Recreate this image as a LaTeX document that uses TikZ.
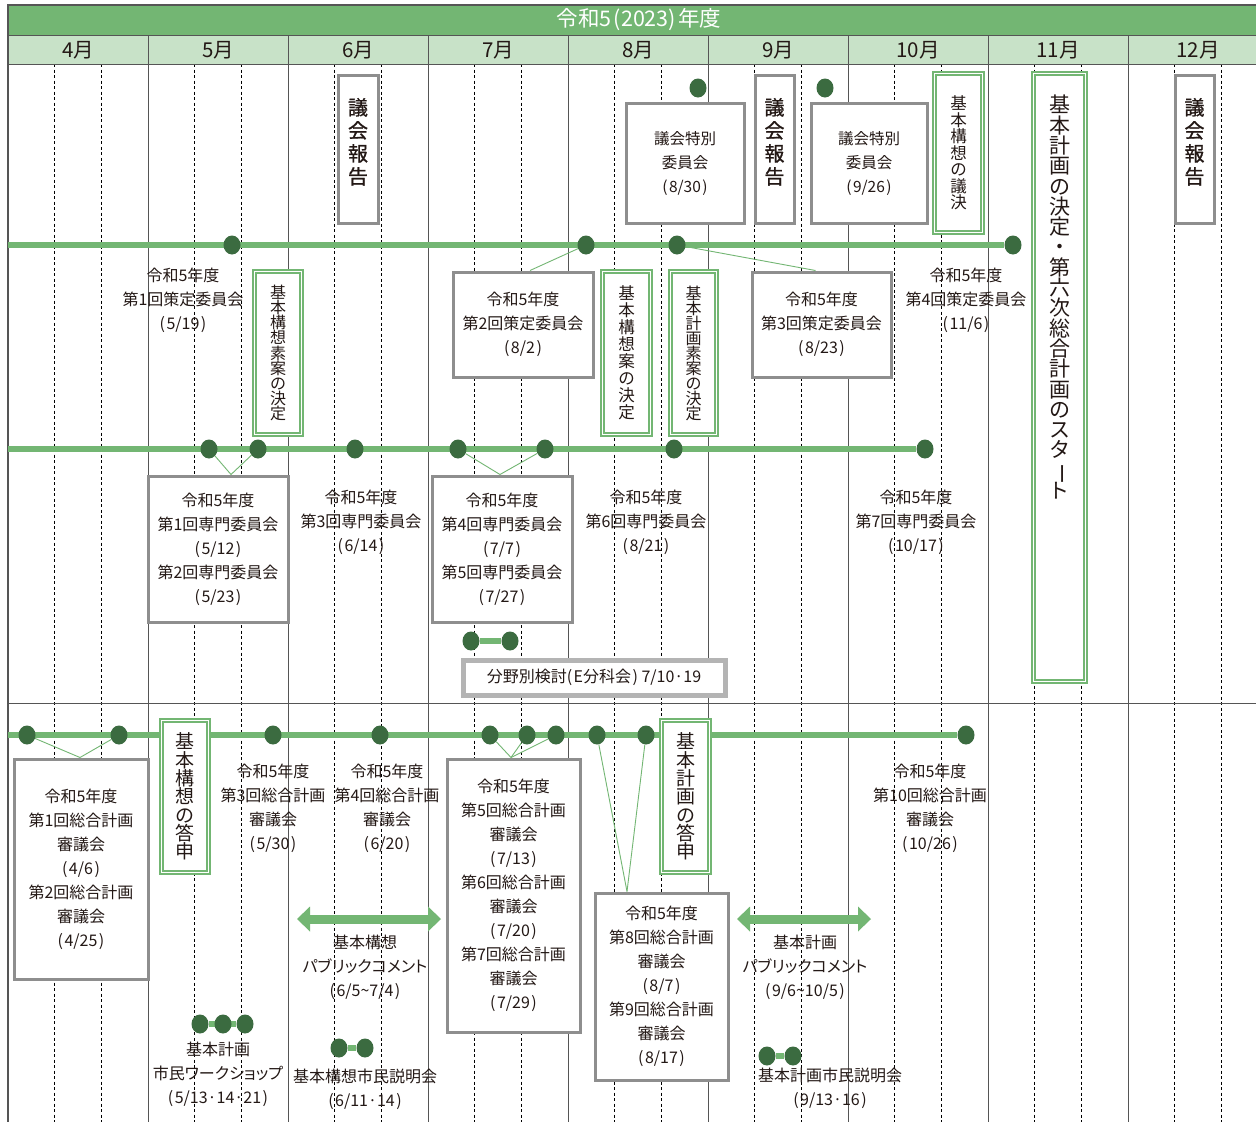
\documentclass[tikz,border=0pt]{standalone}
\usepackage{fontspec}
\usepackage{graphicx}
\setmainfont[RawFeature=+palt]{Noto Sans CJK JP}
\newfontfamily\semibold[FakeBold=1]{Noto Sans CJK JP}
\usetikzlibrary{shapes.geometric,arrows.meta}
\definecolor{lgreen}{HTML}{73B673}
\definecolor{dgreen}{HTML}{3B6B40}
\definecolor{pgreen}{HTML}{C8E2C8}
\definecolor{frame}{HTML}{555555}
\definecolor{boxgray}{HTML}{8E8E8E}
\definecolor{lgray}{HTML}{B4B4B4}
\definecolor{ink}{HTML}{231815}
\newcommand\vfont[2]{\fontsize{#1}{#2}\selectfont\lineskiplimit=-50pt\relax}
\newcommand\Lp{(\kern1.5pt}
\newcommand\Rp{\kern1.5pt)}
\pgfdeclarelayer{bg}
\pgfdeclarelayer{mid}
\pgfsetlayers{bg,mid,main}
\begin{document}
\begin{tikzpicture}[x=1pt,y=-1pt,
  every node/.style={text=ink},
  gline/.style={draw=lgreen,line width=6pt},
  conn/.style={draw=lgreen,line width=0.9pt},
  dot/.style={ellipse,fill=dgreen,minimum width=17pt,minimum height=19pt,inner sep=0pt},
  gbox/.style={draw=boxgray,line width=3pt,fill=white,align=center,inner sep=0pt,font=\vfont{16}{24}},
  rbox/.style={draw=boxgray,line width=3pt,fill=white,align=center,inner sep=0pt,text depth=16pt,font=\semibold\vfont{20}{23}},
  dbox/.style={draw=lgreen,line width=1.4pt,double=white,double distance=1.8pt,fill=white,align=center,inner sep=0pt},
  lbl/.style={align=center,inner sep=0pt,font=\vfont{16}{24}},
  frameline/.style={draw=frame,line width=1pt},
  dline/.style={draw=black,line width=0.7pt,dash pattern=on 3pt off 2.5pt},
  bigarrow/.style={draw=lgreen,line width=9pt,{Triangle[length=13pt,width=25pt,line width=0pt]}-{Triangle[length=13pt,width=25pt,line width=0pt]}}
]
\useasboundingbox (0,0) rectangle (1256,1122);

% ---------- background grid ----------
\begin{pgfonlayer}{bg}
\fill[white] (0,0) rectangle (1256,1122);
\fill[lgreen] (8,5) rectangle (1256,35);
\fill[pgreen] (8,35) rectangle (1256,64);
\foreach \i in {0,...,8} {
  \draw[dline] ({8+140*\i+46.67},64) -- ({8+140*\i+46.67},1122);
  \draw[dline] ({8+140*\i+93.33},64) -- ({8+140*\i+93.33},1122);
}
\foreach \i in {1,...,8} {
  \draw[frameline] ({8+140*\i},35) -- ({8+140*\i},1122);
}
\draw[draw=frame,line width=2pt] (8,5) -- (1256,5);
\draw[frameline] (8,35) -- (1256,35);
\draw[frameline] (8,64) -- (1256,64);
\draw[frameline] (8,703) -- (1256,703);
\draw[draw=frame,line width=1.4pt] (8,4) -- (8,1122);
\end{pgfonlayer}

% ---------- header ----------
\node[text=white,font=\fontsize{21.5}{22}\selectfont] (title) at (639,20) {令和5\kern2pt(2023)\kern2pt 年度};
\foreach \m [count=\i from 0] in {4,...,12} {
  \node[font=\fontsize{20.5}{22}\selectfont] (m\m) at ({78+140*\i},50) {{\m}月};
}

% ---------- section 1 : top ----------
\node[dot] (s830) at (698,88) {};
\node[dot] (s926) at (825,88) {};
\node[rbox,minimum width=40pt,minimum height=148pt] (rep6) at (358,149) {議\\会\\報\\告};
\node[gbox,minimum width=118pt,minimum height=120pt,font=\vfont{15.5}{24}] (sp830) at (685,163) {議会特別\\委員会\\\Lp 8/30\Rp};
\node[rbox,minimum width=39pt,minimum height=148pt] (rep9) at (774.5,149) {議\\会\\報\\告};
\node[gbox,minimum width=116pt,minimum height=120pt,font=\vfont{15.5}{24}] (sp926) at (869,163) {議会特別\\委員会\\\Lp 9/26\Rp};
\node[dbox,minimum width=48pt,minimum height=159pt,font=\vfont{16.5}{16.5}] (giketsu) at (958.5,153) {基\\本\\構\\想\\の\\議\\決};
\node[dbox,minimum width=52pt,minimum height=608pt] (plan) at (1059.5,377.5) {};
\node[anchor=north,align=center,inner sep=0pt,font=\vfont{21}{20.3}] (plantxt) at (1059.5,95) {基\\本\\計\\画\\の\\決\\定\\・\\第\\六\\次\\総\\合\\計\\画\\の\\ス\\タ\\\rotatebox[origin=c]{-90}{ー}\\ト};
\node[rbox,minimum width=39pt,minimum height=148pt] (rep12) at (1194.5,149) {議\\会\\報\\告};

% line 1 : strategy committee
\coordinate (l1s) at (8,245);
\node[dot] (c519) at (232,245) {};
\node[dot] (c82) at (586,245) {};
\node[dot] (c823) at (677,245) {};
\node[dot] (c116) at (1013,245) {};
\node[lbl] (t519) at (183,300) {令和5年度\\第1回策定委員会\\\Lp 5/19\Rp};
\node[dbox,minimum width=47pt,minimum height=163pt,font=\vfont{16}{15.2}] (sosan1) at (278,353) {基\\本\\構\\想\\素\\案\\の\\決\\定};
\node[gbox,minimum width=140pt,minimum height=105pt] (s2) at (523,324.5) {令和5年度\\第2回策定委員会\\\Lp 8/2\Rp};
\node[dbox,minimum width=48pt,minimum height=163pt,font=\vfont{16.5}{17}] (kosoan) at (626.5,353) {基\\本\\構\\想\\案\\の\\決\\定};
\node[dbox,minimum width=46pt,minimum height=163pt,font=\vfont{16}{15}] (sosan2) at (693.5,353) {基\\本\\計\\画\\素\\案\\の\\決\\定};
\node[gbox,minimum width=139pt,minimum height=105pt] (s3) at (821.5,324.5) {令和5年度\\第3回策定委員会\\\Lp 8/23\Rp};
\node[lbl] (t116) at (966,300) {令和5年度\\第4回策定委員会\\\Lp 11/6\Rp};

% line 2 : expert committee
\coordinate (l2s) at (8,449);
\node[dot] (e512) at (209,449) {};
\node[dot] (e523) at (258,449) {};
\node[dot] (e614) at (355,449) {};
\node[dot] (e77) at (458,449) {};
\node[dot] (e727) at (545,449) {};
\node[dot] (e821) at (674,449) {};
\node[dot] (e1017) at (925,449) {};
\node[gbox,minimum width=140pt,minimum height=146pt] (sm1) at (218,549) {令和5年度\\第1回専門委員会\\\Lp 5/12\Rp\\第2回専門委員会\\\Lp 5/23\Rp};
\node[lbl] (t614) at (361,522) {令和5年度\\第3回専門委員会\\\Lp 6/14\Rp};
\node[gbox,minimum width=140pt,minimum height=146pt] (sm4) at (502,549) {令和5年度\\第4回専門委員会\\\Lp 7/7\Rp\\第5回専門委員会\\\Lp 7/27\Rp};
\node[lbl] (t821) at (646,522) {令和5年度\\第6回専門委員会\\\Lp 8/21\Rp};
\node[lbl] (t1017) at (916,522) {令和5年度\\第7回専門委員会\\\Lp 10/17\Rp};
\node[dot] (f1) at (471,641) {};
\node[dot] (f2) at (510,641) {};
\node[draw=lgray,line width=5pt,fill=white,inner sep=0pt,minimum width=262pt,minimum height=35pt,font=\fontsize{16}{20}\selectfont] (bunya) at (594,677.5) {分野別検討\Lp E分科会\Rp{} 7/10·19};

% ---------- section 2 ----------
\coordinate (l3s) at (8,735);
\node[dot] (g46) at (27,735) {};
\node[dot] (g425) at (119,735) {};
\node[dot] (g530) at (273,735) {};
\node[dot] (g620) at (380,735) {};
\node[dot] (g713) at (490,735) {};
\node[dot] (g720) at (527,735) {};
\node[dot] (g729) at (556,735) {};
\node[dot] (g87) at (597,735) {};
\node[dot] (g817) at (646,735) {};
\node[dot] (g1026) at (966,735) {};
\node[gbox,minimum width=134pt,minimum height=220pt] (so1) at (81,869) {令和5年度\\第1回総合計画\\審議会\\\Lp 4/6\Rp\\第2回総合計画\\審議会\\\Lp 4/25\Rp};
\node[dbox,minimum width=47pt,minimum height=152pt,font=\vfont{19}{18.3}] (toshin1) at (185,796.5) {基\\本\\構\\想\\の\\答\\申};
\node[lbl] (t530) at (273,808) {令和5年度\\第3回総合計画\\審議会\\\Lp 5/30\Rp};
\node[lbl] (t620) at (387,808) {令和5年度\\第4回総合計画\\審議会\\\Lp 6/20\Rp};
\node[gbox,minimum width=133pt,minimum height=273pt] (so5) at (513.5,895.5) {令和5年度\\第5回総合計画\\審議会\\\Lp 7/13\Rp\\第6回総合計画\\審議会\\\Lp 7/20\Rp\\第7回総合計画\\審議会\\\Lp 7/29\Rp};
\node[gbox,minimum width=133pt,minimum height=187pt] (so8) at (661.5,986.5) {令和5年度\\第8回総合計画\\審議会\\\Lp 8/7\Rp\\第9回総合計画\\審議会\\\Lp 8/17\Rp};
\node[dbox,minimum width=48pt,minimum height=152pt,font=\vfont{19}{18.3}] (toshin2) at (685.5,796.5) {基\\本\\計\\画\\の\\答\\申};
\node[lbl] (t1026) at (930,808) {令和5年度\\第10回総合計画\\審議会\\\Lp 10/26\Rp};

\coordinate (pa1) at (297,919);
\coordinate (pa2) at (441,919);
\node[lbl] (tpc1) at (365,967) {基本構想\\パブリックコメント\\\Lp 6/5\textasciitilde 7/4\Rp};
\coordinate (pb1) at (737,919);
\coordinate (pb2) at (871,919);
\node[lbl] (tpc2) at (805,967) {基本計画\\パブリックコメント\\\Lp 9/6\textasciitilde 10/5\Rp};

\node[dot] (w1) at (200,1024) {};
\node[dot] (w2) at (223,1024) {};
\node[dot] (w3) at (245,1024) {};
\node[lbl] (tws) at (218,1074) {基本計画\\市民ワークショップ\\\Lp 5/13·14·21\Rp};
\node[dot] (k1) at (339,1048) {};
\node[dot] (k2) at (365,1048) {};
\node[lbl] (tks) at (365,1089) {基本構想市民説明会\\\Lp 6/11·14\Rp};
\node[dot] (h1) at (767,1056) {};
\node[dot] (h2) at (793,1056) {};
\node[lbl,anchor=north] (tkk1) at (830,1068) {基本計画市民説明会};
\node[lbl,anchor=north] (tkk2) at (830,1092) {\Lp 9/13·16\Rp};

% ---------- lines and connectors ----------
\begin{pgfonlayer}{mid}
\draw[gline] (l1s) -- (c116);
\draw[gline] (l2s) -- (e1017);
\draw[gline] (l3s) -- (g1026);
\draw[gline] (f1) -- (f2);
\draw[gline] (w1) -- (w3);
\draw[gline] (k1) -- (k2);
\draw[gline] (h1) -- (h2);
\draw[conn] (c82) -- ([xshift=7pt]s2.north);
\draw[conn] (c823) -- ([xshift=-6pt]s3.north);
\draw[conn] (e512) -- ([xshift=13pt]sm1.north);
\draw[conn] (e523) -- ([xshift=13pt]sm1.north);
\draw[conn] (e77) -- ([xshift=-2pt]sm4.north);
\draw[conn] (e727) -- ([xshift=-2pt]sm4.north);
\draw[conn] (g46) -- ([xshift=-1pt]so1.north);
\draw[conn] (g425) -- ([xshift=-1pt]so1.north);
\draw[conn] (g713) -- ([xshift=-2.5pt]so5.north);
\draw[conn] (g720) -- ([xshift=-2.5pt]so5.north);
\draw[conn] (g729) -- ([xshift=-2.5pt]so5.north);
\draw[conn] (g87) -- ([xshift=-34.5pt]so8.north);
\draw[conn] (g817) -- ([xshift=-34.5pt]so8.north);
\draw[bigarrow] (pa1) -- (pa2);
\draw[bigarrow] (pb1) -- (pb2);
\end{pgfonlayer}
\end{tikzpicture}
\end{document}
